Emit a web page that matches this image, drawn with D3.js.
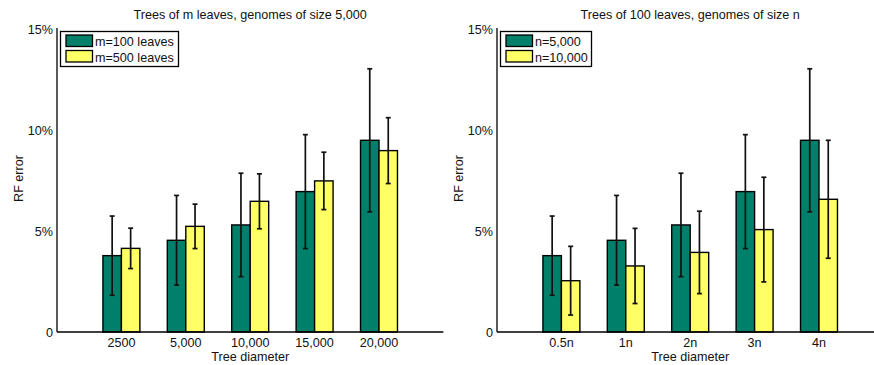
<!DOCTYPE html>
<html lang="en">
<head>
<meta charset="UTF-8">
<title>RF error bars</title>
<script src="https://d3js.org/d3.v7.min.js"></script>
<style>
  body { margin: 0; background: #fff; }
  text { font-family: "Liberation Sans", Arial, sans-serif; fill: #111; }
</style>
</head>
<body>
<div id="chart"></div>
<script>
// Data (percent)
const leftCategories = ["2500", "5,000", "10,000", "15,000", "20,000"];
const rightCategories = ["0.5n", "1n", "2n", "3n", "4n"];

const m100Mean = [3.78, 4.54, 5.30, 6.95, 9.49];
const m100Err  = [1.96, 2.22, 2.56, 2.82, 3.54];
const m500Mean = [4.14, 5.23, 6.47, 7.48, 8.98];
const m500Err  = [1.00, 1.10, 1.36, 1.42, 1.63];

const n5000Mean  = [3.78, 4.54, 5.30, 6.95, 9.49];
const n5000Err   = [1.96, 2.22, 2.56, 2.82, 3.54];
const n10000Mean = [2.54, 3.27, 3.94, 5.07, 6.57];
const n10000Err  = [1.70, 1.86, 2.04, 2.59, 2.92];

const yTicks = [0, 5, 10, 15];
const yTickLabels = ["0", "5%", "10%", "15%"];

const colors = ["#00806a", "#ffff66"];
const fs = 12.6;

const width = 874, height = 365;
const svg = d3.select("#chart").append("svg")
    .attr("width", width)
    .attr("height", height);

const y = d3.scaleLinear().domain([0, 15]).range([332, 29]);

function panel(opts) {
    const g = svg.append("g");
    const x = d3.scaleLinear().domain([0, 6]).range([opts.x0, opts.x0 + 386.4]);
    const bw = x(0.287) - x(0);

    const series = [
        { mean: opts.a, err: opts.aErr, color: colors[0], off: -1 },
        { mean: opts.b, err: opts.bErr, color: colors[1], off: 0 }
    ];

    // bars
    series.forEach(s => {
        g.selectAll(null)
            .data(s.mean)
            .join("rect")
            .attr("x", (d, i) => x(i + 1) + s.off * bw)
            .attr("y", d => y(d))
            .attr("width", bw)
            .attr("height", d => y(0) - y(d))
            .attr("fill", s.color)
            .attr("stroke", "#000")
            .attr("stroke-width", 1.4);
    });

    // error bars
    series.forEach(s => {
        const eb = g.selectAll(null)
            .data(s.mean.map((d, i) => ({ i, d, e: s.err[i] })))
            .join("g")
            .attr("stroke", "#111")
            .attr("stroke-width", 1.7);
        const cx = d => x(d.i + 1) + s.off * bw + bw / 2;
        eb.append("line")
            .attr("x1", cx).attr("x2", cx)
            .attr("y1", d => y(d.d + d.e)).attr("y2", d => y(d.d - d.e));
        eb.append("line")
            .attr("x1", d => cx(d) - 2.5).attr("x2", d => cx(d) + 2.5)
            .attr("y1", d => y(d.d + d.e)).attr("y2", d => y(d.d + d.e));
        eb.append("line")
            .attr("x1", d => cx(d) - 2.5).attr("x2", d => cx(d) + 2.5)
            .attr("y1", d => y(d.d - d.e)).attr("y2", d => y(d.d - d.e));
    });

    // axes
    g.append("line")
        .attr("x1", x(0)).attr("x2", x(6))
        .attr("y1", y(0)).attr("y2", y(0))
        .attr("stroke", "#000").attr("stroke-width", 1.3);
    g.append("line")
        .attr("x1", x(0)).attr("x2", x(0))
        .attr("y1", y(0)).attr("y2", y(15) - 1)
        .attr("stroke", "#000").attr("stroke-width", 1.3);

    g.selectAll(null)
        .data(yTicks)
        .join("text")
        .attr("x", x(0) - 4)
        .attr("y", d => y(d) + 4.5)
        .attr("text-anchor", "end")
        .attr("font-size", fs)
        .text((d, i) => yTickLabels[i]);

    g.selectAll(null)
        .data(opts.cats)
        .join("text")
        .attr("x", (d, i) => x(i + 1))
        .attr("y", 346.5)
        .attr("text-anchor", "middle")
        .attr("font-size", fs)
        .text(d => d);

    g.append("text")
        .attr("x", x(3))
        .attr("y", 360.5)
        .attr("text-anchor", "middle")
        .attr("font-size", fs)
        .text("Tree diameter");

    g.append("text")
        .attr("transform", `translate(${x(0) - 34},${(y(0) + y(15)) / 2 - 2}) rotate(-90)`)
        .attr("text-anchor", "middle")
        .attr("font-size", fs)
        .text("RF error");

    g.append("text")
        .attr("x", x(3))
        .attr("y", 18.5)
        .attr("text-anchor", "middle")
        .attr("font-size", fs)
        .text(opts.title);

    // legend
    const lg = g.append("g").attr("transform", `translate(${x(0) + 3.5},31.5)`);
    lg.append("rect")
        .attr("width", opts.legendW).attr("height", 35)
        .attr("fill", "#fff").attr("stroke", "#000").attr("stroke-width", 1.3);
    opts.labels.forEach((lab, i) => {
        lg.append("rect")
            .attr("x", 5.5).attr("y", 3.5 + i * 15.5)
            .attr("width", 26.5).attr("height", 11.5)
            .attr("fill", colors[i]).attr("stroke", "#000").attr("stroke-width", 1.3);
        lg.append("text")
            .attr("x", 34.5).attr("y", 14.5 + i * 15.5)
            .attr("font-size", fs)
            .text(lab);
    });
}

panel({
    x0: 57,
    cats: leftCategories,
    a: m100Mean, aErr: m100Err,
    b: m500Mean, bErr: m500Err,
    title: "Trees of m leaves, genomes of size 5,000",
    labels: ["m=100 leaves", "m=500 leaves"],
    legendW: 118
});

panel({
    x0: 497,
    cats: rightCategories,
    a: n5000Mean, aErr: n5000Err,
    b: n10000Mean, bErr: n10000Err,
    title: "Trees of 100 leaves, genomes of size n",
    labels: ["n=5,000", "n=10,000"],
    legendW: 91
});
</script>
</body>
</html>
